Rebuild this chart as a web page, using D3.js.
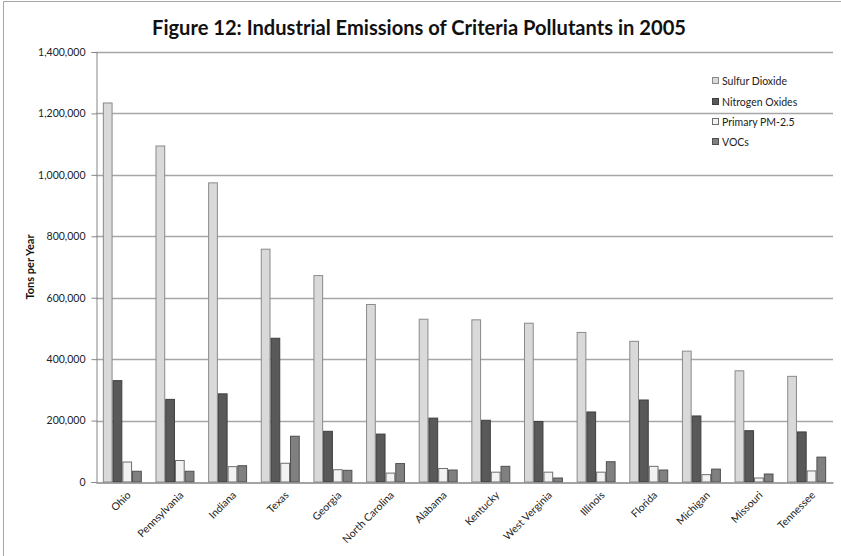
<!DOCTYPE html>
<html><head><meta charset="utf-8">
<script src="https://cdn.jsdelivr.net/npm/d3@7"></script>
<style>
html,body{margin:0;padding:0;background:#fff;}
svg{display:block;font-family:Lato,"Open Sans",sans-serif;}
</style></head>
<body>
<svg id="chart" width="841" height="556"></svg>
<script>
const title = "Figure 12: Industrial Emissions of Criteria Pollutants in 2005";
const yAxisTitle = "Tons per Year";
const categories = ["Ohio","Pennsylvania","Indiana","Texas","Georgia","North Carolina","Alabama","Kentucky","West Verginia","Illinois","Florida","Michigan","Missouri","Tennessee"];
const seriesNames = ["Sulfur Dioxide","Nitrogen Oxides","Primary PM-2.5","VOCs"];
const sulfurDioxide  = [1234000,1094000,974000,758000,672000,578000,530000,528000,517000,487000,458000,426000,362000,344000];
const nitrogenOxides = [330000,269000,287000,468000,165000,156000,208000,201000,197000,228000,267000,215000,167000,163000];
const primaryPM25    = [65000,70000,50000,61000,40000,29000,44000,32000,32000,32000,51000,24000,13000,36000];
const vocs           = [35000,35000,53000,149000,38000,60000,39000,51000,13000,66000,39000,42000,26000,81000];
const yTicks = [0,200000,400000,600000,800000,1000000,1200000,1400000];

const seriesValues = [sulfurDioxide, nitrogenOxides, primaryPM25, vocs];
const fills   = ["#d9d9d9","#595959","#f2f2f2","#808080"];
const strokes = ["#8a8a8a","#3f3f3f","#6e6e6e","#4f4f4f"];

const svg = d3.select("#chart");
const m = {left:96, right:833, top:52, bottom:482};

// outer border (left & top visible)
svg.append("line").attr("x1",3.5).attr("x2",3.5).attr("y1",1.5).attr("y2",556).attr("stroke","#a6a6a6");
svg.append("line").attr("x1",3.5).attr("x2",841).attr("y1",1.5).attr("y2",1.5).attr("stroke","#a6a6a6");

const x0 = d3.scaleBand().domain(categories).range([m.left,m.right]).paddingInner(0.26).paddingOuter(0.13);
const x1 = d3.scaleBand().domain(seriesNames).range([0,x0.bandwidth()]);
const y = d3.scaleLinear().domain([0,1400000]).range([m.bottom,m.top]);

// gridlines
svg.append("g").selectAll("line").data(yTicks.slice(1)).join("line")
  .attr("x1",m.left).attr("x2",m.right)
  .attr("y1",d=>Math.round(y(d))+0.5).attr("y2",d=>Math.round(y(d))+0.5)
  .attr("stroke","#a6a6a6").attr("stroke-width",1.4);

// y axis
const yAxis = d3.axisLeft(y).tickValues(yTicks).tickSize(5).tickPadding(6).tickFormat(d3.format(","));
const gy = svg.append("g").attr("transform",`translate(${m.left+0.5},0)`).call(yAxis);
gy.select(".domain").attr("stroke","#868686");
gy.selectAll(".tick line").attr("stroke","#868686");
gy.selectAll(".tick text").attr("font-size",10.5).attr("fill","#222").attr("font-family","Lato");

// bars
const groups = svg.append("g").selectAll("g").data(categories).join("g")
  .attr("transform",d=>`translate(${x0(d)},0)`);
groups.selectAll("rect").data((c,i)=>seriesNames.map((s,j)=>({s,j,v:seriesValues[j][i]}))).join("rect")
  .attr("x",d=>x1(d.s)+0.5).attr("width",x1.bandwidth()-1)
  .attr("y",d=>y(d.v)).attr("height",d=>m.bottom-y(d.v))
  .attr("fill",d=>fills[d.j]).attr("stroke",d=>strokes[d.j]).attr("stroke-width",1);

// x axis baseline
const xAxis = d3.axisBottom(x0).tickSize(0).tickPadding(8);
const gx = svg.append("g").attr("transform",`translate(0,${m.bottom+0.5})`).call(xAxis);
gx.select(".domain").attr("stroke","#868686").attr("stroke-width",1.3);
gx.selectAll(".tick text").attr("font-size",10.5).attr("fill","#222").attr("font-family","Lato")
  .attr("text-anchor","end").attr("dy","0.35em")
  .attr("transform","translate(1,5) rotate(-45)");

// y-axis title
svg.append("text").attr("transform",`translate(34,${(m.top+m.bottom)/2}) rotate(-90)`)
  .attr("text-anchor","middle").attr("font-size",11).attr("font-weight","bold").attr("fill","#111").text(yAxisTitle);

// title
const t = svg.append("text").attr("x",419).attr("y",35).attr("text-anchor","middle")
  .attr("font-size",18).attr("font-weight","bold").attr("fill","#111").text(title);
const tw = t.node().getComputedTextLength();
t.attr("font-size", 18*534/tw);

// legend
const lg = svg.append("g").attr("transform","translate(712,0)");
const rowsY = [81,102,122,142];
seriesNames.forEach((s,i)=>{
  lg.append("rect").attr("x",0.5).attr("y",rowsY[i]-3.5).attr("width",6).attr("height",6)
    .attr("fill",fills[i]).attr("stroke",strokes[i]);
  lg.append("text").attr("x",10).attr("y",rowsY[i]).attr("dy","0.35em").attr("font-size",10.5).attr("fill","#222").text(s);
});
</script>
</body></html>
